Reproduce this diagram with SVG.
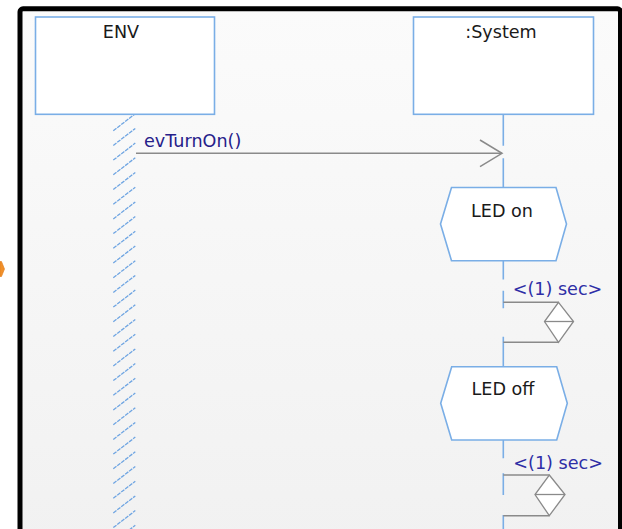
<svg xmlns="http://www.w3.org/2000/svg" width="622" height="529" viewBox="0 0 622 529">
<style>
.box{fill:#ffffff;stroke:#7aaee6;stroke-width:1.6}
.life{fill:none;stroke:#7aaee6;stroke-width:1.6}
.hatch{fill:none;stroke:#6fa5e2;stroke-width:1.3;stroke-dasharray:4 1}
.gray{fill:none;stroke:#8a8a8a;stroke-width:1.5}
.tmr{fill:#ffffff;stroke:#8a8a8a;stroke-width:1.3}
.t{font-family:"DejaVu Sans",Verdana,sans-serif;font-size:17.6px;fill:#1a1a1a}
.msg{font-family:"DejaVu Sans",Verdana,sans-serif;font-size:17.6px;fill:#26208a}
.sec{font-family:"DejaVu Sans",Verdana,sans-serif;font-size:17.6px;fill:#2e2ea6}
</style>
<defs>
<linearGradient id="bg" x1="0" y1="0" x2="0" y2="1">
<stop offset="0" stop-color="#fbfbfb"/>
<stop offset="1" stop-color="#f1f1f1"/>
</linearGradient>
</defs>
<rect x="0" y="0" width="622" height="529" fill="#ffffff"/>
<rect x="20" y="8.8" width="600.5" height="540" rx="3" fill="url(#bg)" stroke="#000000" stroke-width="5"/>
<polygon points="0,261.5 1.5,261.5 4.5,269 1.5,276.5 0,276.5" fill="#f0902a" stroke="#e07a18" stroke-width="0.6"/>

<g id="env">
<path class="hatch" d="M113.3,130.7 l22,-17 M113.3,145.4 l22,-17 M113.3,160.1 l22,-17 M113.3,174.8 l22,-17 M113.3,189.5 l22,-17 M113.3,204.2 l22,-17 M113.3,218.9 l22,-17 M113.3,233.6 l22,-17 M113.3,248.3 l22,-17 M113.3,263 l22,-17 M113.3,277.7 l22,-17 M113.3,292.4 l22,-17 M113.3,307.1 l22,-17 M113.3,321.8 l22,-17 M113.3,336.5 l22,-17 M113.3,351.2 l22,-17 M113.3,365.9 l22,-17 M113.3,380.6 l22,-17 M113.3,395.3 l22,-17 M113.3,410 l22,-17 M113.3,424.7 l22,-17 M113.3,439.4 l22,-17 M113.3,454.1 l22,-17 M113.3,468.8 l22,-17 M113.3,483.5 l22,-17 M113.3,498.2 l22,-17 M113.3,512.9 l22,-17 M113.3,527.6 l22,-17 M113.3,542.3 l22,-17"/>
<rect class="box" x="35.5" y="17" width="179" height="97.3"/>
<text class="t" x="121" y="38" text-anchor="middle">ENV</text>
</g>

<g id="system">
<path class="life" d="M503.3,114.3 V145.7 M503.3,158.3 V187.5 M503.3,260.7 V279.5 M503.3,290.7 V308.3 M503.3,336.7 V366.7 M503.3,440 V458.3 M503.3,473.3 V495 M503.3,515 V529"/>
<rect class="box" x="413.5" y="17" width="180" height="97.3"/>
<text class="t" x="501" y="38" text-anchor="middle">:System</text>
</g>

<g id="led-on">
<polygon class="box" points="451.5,187.5 556,187.5 566.5,224 556,260.7 451.5,260.7 440.5,224"/>
<text class="t" x="502" y="216.5" text-anchor="middle">LED on</text>
</g>

<g id="led-off">
<polygon class="box" points="451.7,366.7 556.7,366.7 567.3,403.3 556.7,440 451.7,440 440.7,403.3"/>
<text class="t" x="503" y="395" text-anchor="middle">LED off</text>
</g>

<g id="timer1">
<path class="gray" d="M503.3,302.3 H558.5 M503.3,342.3 H558.5"/>
<polygon class="tmr" points="558.5,302.3 573.5,321.5 558.5,342.3 544.5,321.5"/>
<path class="tmr" d="M544.5,321.5 H573.5"/>
<text class="sec" x="512.7" y="295">&lt;(1) sec&gt;</text>
</g>

<g id="timer2">
<path class="gray" d="M503.3,475 H549.3 M503.3,515.7 H549.3"/>
<polygon class="tmr" points="549.3,475 565,494.5 549.3,515.7 535,494.5"/>
<path class="tmr" d="M535,494.5 H565"/>
<text class="sec" x="513.3" y="468.5">&lt;(1) sec&gt;</text>
</g>

<g id="connectors">
<path class="gray" d="M136,153.3 H502"/>
<path class="gray" d="M480,140 L502,153.3 L480,166.6"/>
<text class="msg" x="144" y="146.5">evTurnOn()</text>
</g>
</svg>
